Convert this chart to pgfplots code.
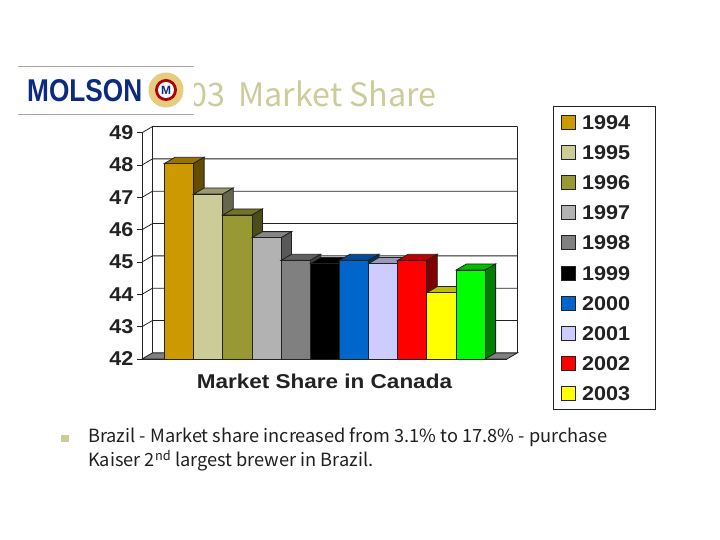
\documentclass[border=0pt]{standalone}
\usepackage{fontspec}
\usepackage{pgfplots}
\pgfplotsset{compat=1.18}
\setmainfont{Liberation Sans}
\newfontfamily\jpfont{Noto Sans CJK JP}
\newfontfamily\widebold[FakeStretch=1.08]{Liberation Sans Bold}
\newfontfamily\widerbold[FakeStretch=1.125]{Liberation Sans Bold}
\definecolor{ink}{HTML}{222222}
\definecolor{khaki}{HTML}{CCCC99}
\definecolor{logoblue}{HTML}{0B2A80}
\definecolor{c94}{HTML}{CC9900}
\definecolor{c95}{HTML}{CCCC99}
\definecolor{c96}{HTML}{999933}
\definecolor{c97}{HTML}{B2B2B2}
\definecolor{c98}{HTML}{808080}
\definecolor{c99}{HTML}{000000}
\definecolor{c00}{HTML}{0066CC}
\definecolor{c01}{HTML}{CCCCFF}
\definecolor{c02}{HTML}{FF0000}
\definecolor{c03}{HTML}{FFFF00}
\definecolor{c04}{HTML}{00FF00}
% depth of the 3d effect, in axis units
\def\dx{0.36}
\def\dy{0.19}
% side and top faces of a bar: position, value, colour
\newcommand{\barfaces}[3]{%
  \pgfmathsetmacro{\xa}{#1-0.5}\pgfmathsetmacro{\xb}{#1+0.5}%
  \pgfmathsetmacro{\xc}{\xa+\dx}\pgfmathsetmacro{\xd}{\xb+\dx}%
  \pgfmathsetmacro{\yt}{#2+\dy}\pgfmathsetmacro{\yf}{42+\dy}%
  \addplot[fill=#3!75!black, draw=ink, forget plot] coordinates {(\xa,#2)(\xc,\yt)(\xd,\yt)(\xb,#2)} --cycle;
  \addplot[fill=#3!50!black, draw=ink, forget plot] coordinates {(\xb,#2)(\xd,\yt)(\xd,\yf)(\xb,42)} --cycle;
}
% one grid level on the side wall and back wall
\newcommand{\gridlevel}[1]{%
  \pgfmathsetmacro{\yt}{#1+\dy}%
  \addplot[ink, forget plot] coordinates {(-1.272,#1)(-0.912,\yt)(11.61,\yt)};
}
% legend entry with the blank room the box has on its right
\newcommand{\yr}[1]{\addlegendentry{#1\rule{15pt}{0pt}}}
\pgfplotsset{
  year bar/.style={ybar, bar width=1, bar shift=0pt, fill=#1, draw=ink,
    legend image code/.code={\draw[fill=#1, draw=ink] (0pt,-7pt) rectangle (14pt,7pt);}},
}
\begin{document}
\begin{tikzpicture}[x=1pt,y=1pt]
\path[use as bounding box] (0,0) rectangle (720,540);
\node[anchor=base east, inner sep=0pt, text=khaki, font=\jpfont\fontsize{32.3}{32}\selectfont] at (437,433) {2003\hspace{6pt} Market Share};
% logo
\fill[white] (18,426) rectangle (194,474);
\draw[gray!70, line width=0.7pt] (18,474) -- (194,474) (18,426) -- (194,426);
\node[anchor=south west, inner sep=0pt, text=logoblue, font=\bfseries] at (27,438) {\resizebox{115pt}{22pt}{MOLSON}};
\fill[c94!50!white] (166,450) circle (17.5);
\fill[red!70!black] (166,450) circle (11);
\fill[white] (166,450) circle (8);
\node[text=logoblue, font=\bfseries\fontsize{12}{12}\selectfont, inner sep=0pt] at (166,450) {M};
\begin{axis}[
  at={(142pt,181pt)}, anchor=south west, scale only axis,
  width=365pt, height=226.3pt,
  xmin=-1.272, xmax=11.25, ymin=42, ymax=49,
  axis y line*=left, axis x line*=bottom,
  clip=false,
  axis line style={ink, line width=0.8pt},
  every axis plot/.append style={line width=0.8pt},
  xtick=\empty,
  ytick={42,43,44,45,46,47,48,49},
  tick style={ink, line width=0.8pt},
  major tick length=5pt,
  tick align=outside,
  yticklabel style={text=ink, font=\widebold\fontsize{20}{20}\selectfont, /pgf/number format/assume math mode=true},
  xlabel={Market Share in Canada},
  xlabel style={at={(0.5,0)}, anchor=center, yshift=-22pt, text=ink, font=\widerbold\fontsize{20}{20}\selectfont},
  legend cell align=left,
  legend style={at={(1.126,1.118)}, anchor=north west, draw=ink, line width=0.8pt,
    inner xsep=8pt, inner ysep=6.6pt, row sep=12.2pt, column sep=4pt,
    nodes={text height=14pt, text depth=0pt, inner sep=2pt, text=ink, font=\widebold\fontsize{20}{20}\selectfont}},
]
% floor and walls
\addplot[fill=c98, draw=ink, forget plot] coordinates {(-1.272,42)(11.25,42)(11.61,42.19)(-0.912,42.19)} --cycle;
\gridlevel{43}\gridlevel{44}\gridlevel{45}\gridlevel{46}\gridlevel{47}\gridlevel{48}\gridlevel{49}
\addplot[ink, forget plot] coordinates {(-0.912,42.19)(-0.912,49.19)};
\addplot[ink, forget plot] coordinates {(11.61,42.19)(11.61,49.19)};
% bars, left to right
\barfaces{0}{48.05}{c94}
\addplot[year bar=c94] coordinates {(0,48.05)}; \yr{1994}
\barfaces{1}{47.1}{c95}
\addplot[year bar=c95] coordinates {(1,47.1)}; \yr{1995}
\barfaces{2}{46.45}{c96}
\addplot[year bar=c96] coordinates {(2,46.45)}; \yr{1996}
\barfaces{3}{45.75}{c97}
\addplot[year bar=c97] coordinates {(3,45.75)}; \yr{1997}
\barfaces{4}{45.05}{c98}
\addplot[year bar=c98] coordinates {(4,45.05)}; \yr{1998}
\barfaces{5}{44.95}{c99}
\addplot[year bar=c99] coordinates {(5,44.95)}; \yr{1999}
\barfaces{6}{45.05}{c00}
\addplot[year bar=c00] coordinates {(6,45.05)}; \yr{2000}
\barfaces{7}{44.95}{c01}
\addplot[year bar=c01] coordinates {(7,44.95)}; \yr{2001}
\barfaces{8}{45.05}{c02}
\addplot[year bar=c02] coordinates {(8,45.05)}; \yr{2002}
\barfaces{9}{44.05}{c03}
\addplot[year bar=c03] coordinates {(9,44.05)}; \yr{2003}
\barfaces{10}{44.75}{c04}
\addplot[year bar=c04, forget plot] coordinates {(10,44.75)};
\end{axis}
% bullet text
\fill[khaki] (61,98) rectangle (69,105);
\node[anchor=base west, inner sep=0pt, text=ink!90!black, font=\jpfont\fontsize{18.2}{18}\selectfont] at (88,97) {Brazil - Market share increased from 3.1\% to 17.8\% - purchase};
\node[anchor=base west, inner sep=0pt, text=ink!90!black, font=\jpfont\fontsize{18.2}{18}\selectfont] at (88,73) {Kaiser 2\textsuperscript{nd} largest brewer in Brazil.};
\end{tikzpicture}
\end{document}
